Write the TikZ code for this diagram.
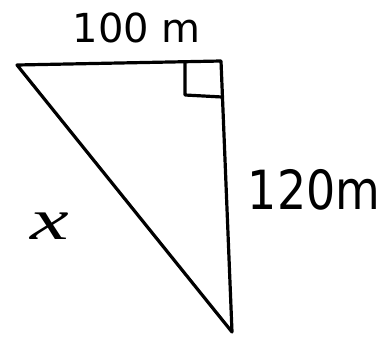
\documentclass[tikz,border=0pt]{standalone}
\usepackage{fontspec}
\setmainfont{DejaVu Sans}
\newfontfamily\serifit{Liberation Serif}
\begin{document}
\begin{tikzpicture}[x=1pt,y=-1pt,
  edge/.style={line width=3.2pt,line cap=round,line join=round,black},
  lbl/.style={inner sep=0pt,anchor=center}]
\useasboundingbox (0,0) rectangle (388,341);
\coordinate (A) at (17,65);
\coordinate (B) at (221,61);
\coordinate (C) at (232,332);
\coordinate (R1) at (185,62);
\coordinate (R2) at (185,95);
\coordinate (R3) at (222,97);
\draw[edge] (A) -- (B) -- (C) -- cycle;
\draw[edge] (R1) -- (R2) -- (R3);
\node[lbl,font=\fontsize{40}{44}\selectfont] (top) at (137,28) {100 m};
\node[lbl,font=\fontsize{54}{58}\selectfont,xscale=0.85] (right) at (314,190) {120m};
\node[lbl,font=\serifit\itshape\fontsize{58}{62}\selectfont,xscale=1.5] (hyp) at (50,226) {x};
\end{tikzpicture}
\end{document}
